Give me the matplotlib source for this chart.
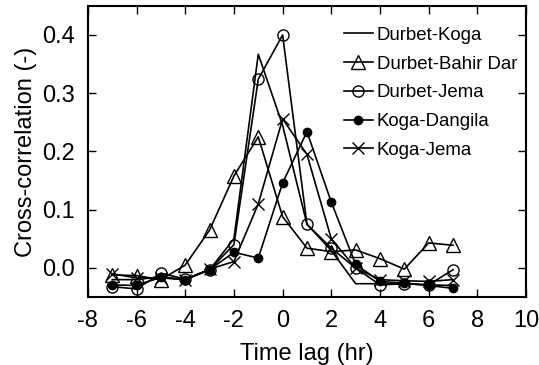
import matplotlib
matplotlib.use("Agg")
import matplotlib.pyplot as plt

plt.rcParams["font.family"] = ["Liberation Sans", "DejaVu Sans"]
plt.rcParams["axes.unicode_minus"] = False

lags = [-7, -6, -5, -4, -3, -2, -1, 0, 1, 2, 3, 4, 5, 6, 7]

durbet_koga = [-0.020, -0.020, -0.015, -0.020, -0.003, 0.050, 0.367, 0.245, 0.075,
               0.030, -0.027, -0.027, -0.027, -0.029, -0.030]
durbet_bahir_dar = [-0.012, -0.013, -0.020, 0.005, 0.065, 0.158, 0.225, 0.088, 0.034,
                    0.028, 0.031, 0.016, -0.002, 0.043, 0.039]
durbet_jema = [-0.032, -0.036, -0.009, -0.019, -0.003, 0.040, 0.324, 0.400, 0.075,
               0.034, 0.000, -0.029, -0.027, -0.029, -0.003]
koga_dangila = [-0.029, -0.030, -0.016, -0.020, -0.003, 0.027, 0.017, 0.146, 0.234,
                0.113, 0.006, -0.023, -0.026, -0.030, -0.035]
koga_jema = [-0.010, -0.017, -0.017, -0.020, -0.002, 0.011, 0.110, 0.256, 0.195,
             0.050, 0.000, -0.020, -0.022, -0.023, -0.020]

fig = plt.figure(figsize=(5.39, 3.65), dpi=100)
ax = fig.add_axes([0.163, 0.186, 0.813, 0.798])

kw = dict(color="black", linewidth=1.2)
ax.plot(lags, durbet_koga, label="Durbet-Koga", **kw)
ax.plot(lags, durbet_bahir_dar, marker="^", markersize=10, markerfacecolor="none",
        markeredgewidth=1.0, label="Durbet-Bahir Dar", **kw)
ax.plot(lags, durbet_jema, marker="o", markersize=8, markerfacecolor="none",
        markeredgewidth=1.0, label="Durbet-Jema", **kw)
ax.plot(lags, koga_dangila, marker="o", markersize=6, markerfacecolor="black",
        label="Koga-Dangila", **kw)
ax.plot(lags, koga_jema, marker="x", markersize=9, markeredgewidth=1.0,
        label="Koga-Jema", **kw)

ax.set_xlim(-8, 10)
ax.set_ylim(-0.05, 0.45)
ax.set_xticks(range(-8, 11, 2))
ax.set_yticks([0.0, 0.1, 0.2, 0.3, 0.4])
ax.set_yticklabels(["0.0", "0.1", "0.2", "0.3", "0.4"])
ax.tick_params(direction="in", length=6, width=1.0, top=True, right=True,
               labelsize=17, pad=9)
for s in ax.spines.values():
    s.set_linewidth(1.5)

ax.set_xlabel("Time lag (hr)", fontsize=17, labelpad=8)
ax.set_ylabel("Cross-correlation (-)", fontsize=17, labelpad=4)

ax.legend(loc="upper right", bbox_to_anchor=(1.009, 0.973), frameon=False,
          fontsize=13.4, handlelength=1.55, handletextpad=0.2,
          labelspacing=0.63, borderaxespad=0.3)

fig.savefig("out.png", dpi=100)
